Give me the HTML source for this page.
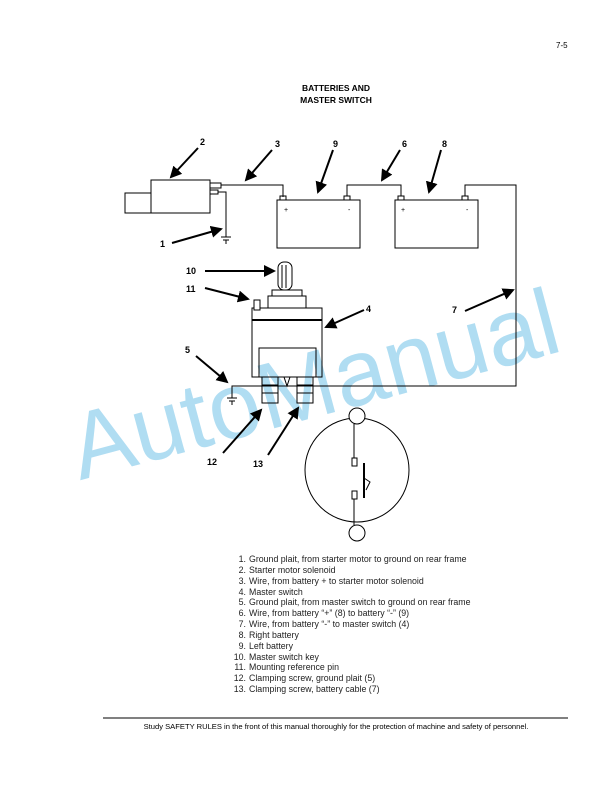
<!DOCTYPE html>
<html><head><meta charset="utf-8"><style>
html,body{margin:0;padding:0;background:#fff;}
svg{display:block;}
</style></head><body>
<svg width="612" height="792" viewBox="0 0 612 792" xmlns="http://www.w3.org/2000/svg" font-family="Liberation Sans, sans-serif">
<defs><marker id="ah" markerWidth="6" markerHeight="6" refX="5" refY="3" orient="auto" markerUnits="strokeWidth"><path d="M0,0 L6,3 L0,6 z" fill="#000"/></marker></defs>
<text x="318" y="418" font-size="94" fill="#7cc6ea" fill-opacity="0.6" text-anchor="middle" transform="rotate(-15 310 400)">AutoManual</text>
<text x="556" y="48" font-size="8">7-5</text>
<text x="336" y="91" font-size="8.5" font-weight="bold" text-anchor="middle">BATTERIES AND</text>
<text x="336" y="103" font-size="8.5" font-weight="bold" text-anchor="middle">MASTER SWITCH</text>
<g fill="none" stroke="#000" stroke-width="1">
<rect x="125" y="193" width="26" height="20" fill="#fff"/>
<rect x="151" y="180" width="59" height="33" fill="#fff"/>
<rect x="210" y="183" width="11" height="5"/>
<rect x="210" y="190" width="8" height="4"/>
<polyline points="221,185 283,185 283,197"/>
<polyline points="218,192 226,192 226,237"/>
<line x1="221" y1="237" x2="231" y2="237"/><line x1="223" y1="240" x2="229" y2="240"/><line x1="226" y1="240" x2="226" y2="244"/>
<rect x="277" y="200" width="83" height="48"/>
<rect x="395" y="200" width="83" height="48"/>
<rect x="280" y="196" width="6" height="4"/><rect x="344" y="196" width="6" height="4"/>
<rect x="398" y="196" width="6" height="4"/><rect x="462" y="196" width="6" height="4"/>
<polyline points="347,196 347,185 401,185 401,196"/>
<polyline points="465,196 465,185 516,185 516,386 232,386 232,398"/>
<line x1="227" y1="398" x2="237" y2="398"/><line x1="229" y1="401" x2="235" y2="401"/><line x1="232" y1="401" x2="232" y2="405"/>
<rect x="252" y="308" width="70" height="69"/>
<line x1="252" y1="320" x2="322" y2="320" stroke-width="2"/>
<polyline points="259,377 259,348 316,348 316,377"/>
<path d="M284,377 L287,386 L290,377"/>
<rect x="268" y="296" width="38" height="12" fill="#fff"/>
<rect x="272" y="290" width="30" height="6" fill="#fff"/>
<rect x="278" y="262" width="14" height="28" rx="6" fill="#fff"/>
<line x1="282" y1="265" x2="282" y2="288"/><line x1="286" y1="265" x2="286" y2="288"/>
<rect x="254" y="300" width="6" height="10" fill="#fff"/>
<rect x="262" y="377" width="16" height="26"/>
<line x1="262" y1="385" x2="278" y2="385"/><line x1="262" y1="393" x2="278" y2="393"/>
<rect x="297" y="377" width="16" height="26"/>
<line x1="297" y1="385" x2="313" y2="385"/><line x1="297" y1="393" x2="313" y2="393"/>
<line x1="232" y1="386" x2="516" y2="386"/>
<circle cx="357" cy="470" r="52"/>
<circle cx="357" cy="416" r="8" fill="#fff"/>
<circle cx="357" cy="533" r="8" fill="#fff"/>
<line x1="354" y1="424" x2="354" y2="458"/>
<rect x="352" y="458" width="5" height="8"/>
<rect x="352" y="491" width="5" height="8"/>
<line x1="354" y1="499" x2="354" y2="525"/>
<line x1="364" y1="463" x2="364" y2="498" stroke-width="2"/>
<polyline points="364,478 370,482 366,490"/>
</g>
<g stroke="#000" stroke-width="2" marker-end="url(#ah)" fill="none">
<line x1="198" y1="148" x2="171" y2="177"/>
<line x1="272" y1="150" x2="246" y2="180"/>
<line x1="333" y1="150" x2="318" y2="192"/>
<line x1="400" y1="150" x2="382" y2="180"/>
<line x1="441" y1="150" x2="429" y2="192"/>
<line x1="172" y1="243" x2="221" y2="229"/>
<line x1="205" y1="271" x2="274" y2="271"/>
<line x1="205" y1="288" x2="248" y2="299"/>
<line x1="364" y1="310" x2="326" y2="327"/>
<line x1="465" y1="311" x2="513" y2="290"/>
<line x1="196" y1="356" x2="227" y2="382"/>
<line x1="223" y1="453" x2="261" y2="410"/>
<line x1="268" y1="455" x2="298" y2="408"/>
</g>
<g font-size="9" font-weight="bold">
<text x="200" y="145">2</text><text x="275" y="147">3</text><text x="333" y="147">9</text>
<text x="402" y="147">6</text><text x="442" y="147">8</text><text x="160" y="247">1</text>
<text x="186" y="274">10</text><text x="186" y="292">11</text><text x="366" y="312">4</text>
<text x="452" y="313">7</text><text x="185" y="353">5</text><text x="207" y="465">12</text>
<text x="253" y="467">13</text>
</g>
<g font-size="7">
<text x="284" y="212">+</text><text x="348" y="212">-</text>
<text x="401" y="212">+</text><text x="466" y="212">-</text>
</g>
<g font-size="8.8" fill="#222">
<text x="246" y="562" text-anchor="end">1.</text><text x="249" y="562">Ground plait, from starter motor to ground on rear frame</text>
<text x="246" y="573" text-anchor="end">2.</text><text x="249" y="573">Starter motor solenoid</text>
<text x="246" y="584" text-anchor="end">3.</text><text x="249" y="584">Wire, from battery + to starter motor solenoid</text>
<text x="246" y="595" text-anchor="end">4.</text><text x="249" y="595">Master switch</text>
<text x="246" y="605" text-anchor="end">5.</text><text x="249" y="605">Ground plait, from master switch to ground on rear frame</text>
<text x="246" y="616" text-anchor="end">6.</text><text x="249" y="616">Wire, from battery “+” (8) to battery “-” (9)</text>
<text x="246" y="627" text-anchor="end">7.</text><text x="249" y="627">Wire, from battery “-” to master switch (4)</text>
<text x="246" y="638" text-anchor="end">8.</text><text x="249" y="638">Right battery</text>
<text x="246" y="649" text-anchor="end">9.</text><text x="249" y="649">Left battery</text>
<text x="246" y="660" text-anchor="end">10.</text><text x="249" y="660">Master switch key</text>
<text x="246" y="670" text-anchor="end">11.</text><text x="249" y="670">Mounting reference pin</text>
<text x="246" y="681" text-anchor="end">12.</text><text x="249" y="681">Clamping screw, ground plait (5)</text>
<text x="246" y="692" text-anchor="end">13.</text><text x="249" y="692">Clamping screw, battery cable (7)</text>
</g>
<line x1="103" y1="718" x2="568" y2="718" stroke="#000" stroke-width="1"/>
<text x="336" y="729" font-size="7.6" text-anchor="middle">Study SAFETY RULES in the front of this manual thoroughly for the protection of machine and safety of personnel.</text>
</svg>
</body></html>
